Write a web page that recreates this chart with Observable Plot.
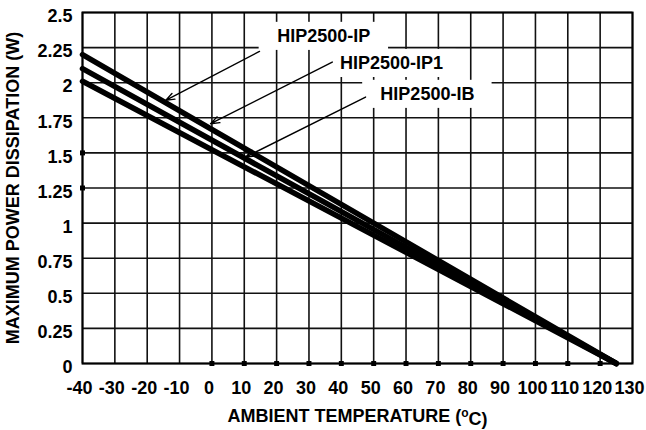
<!DOCTYPE html>
<html><head><meta charset="utf-8">
<script src="https://cdn.jsdelivr.net/npm/d3@7"></script>
<script src="https://cdn.jsdelivr.net/npm/@observablehq/plot@0.6"></script>
<style>body{margin:0;background:#fff}</style>
</head><body><div id="chart"></div>
<script>
const xTicks = [-40,-30,-20,-10,0,10,20,30,40,50,60,70,80,90,100,110,120,130];
const yTicks = [0,0.25,0.5,0.75,1,1.25,1.5,1.75,2,2.25,2.5];
const seriesNames = ["HIP2500-IP","HIP2500-IP1","HIP2500-IB"];
const tempPoints = [-40, 125];
const ipValues = [2.2, 0];
const ip1Values = [2.1, 0];
const ibValues = [2.01, 0];
const labelX = [34.6, 55.5, 66.6];
const labelY = [2.33, 2.137, 1.917];
const arrowFromX = [14.7, 37.2, 47.5];
const arrowFromY = [2.223, 2.147, 1.898];
const arrowToX = [-14.3, -0.4, 10.4];
const arrowToY = [1.874, 1.708, 1.470];
const xMarkers = [0,10,20,30,40,50,60,70,80,90,100,110,120];
const yMarkers = [1.25, 1.5];
const xLabel = "AMBIENT TEMPERATURE (oC)";
const yLabel = "MAXIMUM POWER DISSIPATION (W)";

const seriesValues = [ipValues, ip1Values, ibValues];
const lineData = seriesNames.flatMap((name, i) =>
  tempPoints.map((t, j) => ({series: name, x: t, y: seriesValues[i][j]})));
const labels = seriesNames.map((name, i) => ({
  name, x: labelX[i], y: labelY[i],
  x1: arrowFromX[i], y1: arrowFromY[i], x2: arrowToX[i], y2: arrowToY[i]
}));
const markers = [
  ...xMarkers.map(x => ({x, y: 0})),
  ...yMarkers.map(y => ({x: -40, y}))
];

const font = "Liberation Sans, Arial, Helvetica, sans-serif";
const chart = Plot.plot({
  width: 646,
  height: 430,
  marginLeft: 82,
  marginRight: 14,
  marginTop: 12,
  marginBottom: 67,
  style: {fontFamily: font, fontWeight: "bold", fontSize: "18px", background: "#fff", color: "#000"},
  x: {domain: [-40, 130], axis: null},
  y: {domain: [0, 2.5], axis: null},
  marks: [
    Plot.gridX(xTicks, {stroke: "#111", strokeOpacity: 1, strokeWidth: 1.6}),
    Plot.gridY(yTicks, {stroke: "#111", strokeOpacity: 1, strokeWidth: 1.6}),
    Plot.line(lineData, {x: "x", y: "y", z: "series", stroke: "#000", strokeWidth: 5.5}),
    Plot.dot(markers, {x: "x", y: "y", symbol: "square", r: 2.8, fill: "#000"}),
    Plot.rect(labels, {x1: d => d.x - 20, x2: d => d.x + 20, y1: d => d.y - 0.1, y2: d => d.y + 0.1, fill: "#fff"}),
    Plot.arrow(labels, {x1: "x1", y1: "y1", x2: "x2", y2: "y2", stroke: "#000", strokeWidth: 1.4, headLength: 10, headAngle: 40}),
    Plot.text(labels, {x: "x", y: "y", text: "name", fontSize: 18, fontWeight: "bold", fill: "#000"}),
    Plot.frame({stroke: "#000", strokeWidth: 2}),
    Plot.axisX(xTicks, {tickSize: 0, tickPadding: 18, dx: -3, tickFormat: d => String(d), fontSize: 18, fontWeight: "bold", label: null}),
    Plot.axisY(yTicks, {tickSize: 0, tickPadding: 10, dy: 4, tickFormat: d => String(d), fontSize: 18, fontWeight: "bold", label: null}),
    Plot.text([xLabel], {frameAnchor: "bottom", dy: 53, text: d => d, fontSize: 18, fontWeight: "bold", textAnchor: "middle", lineAnchor: "middle"}),
    Plot.text([yLabel], {frameAnchor: "left", dx: -69, rotate: -90, text: d => d, fontSize: 18, fontWeight: "bold", textAnchor: "middle", lineAnchor: "middle"})
  ]
});
document.getElementById("chart").appendChild(chart);

// superscript "o" in the x label
d3.select(chart).selectAll("text").each(function() {
  const t = d3.select(this);
  if (t.text() === xLabel) {
    t.text(null);
    t.append("tspan").text("AMBIENT TEMPERATURE (");
    t.append("tspan").attr("dy", "-0.45em").attr("font-size", "12px").text("o");
    t.append("tspan").attr("dy", "0.45em").text("C)");
  }
});
</script>
</body></html>
